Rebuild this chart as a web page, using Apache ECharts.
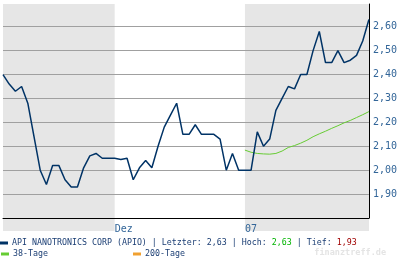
<!DOCTYPE html>
<html><head><meta charset="utf-8">
<script src="https://cdn.jsdelivr.net/npm/echarts@6/dist/echarts.min.js"></script>
<style>html,body{margin:0;padding:0;background:#fff}#c{width:400px;height:258px}</style>
</head><body><div id="c"></div>
<script>
// ---- data ----
const categories = Array.from({length: 60}, (_, i) => 'T' + i); // trading days, Nov 2006 - Jan 2007
const monthTickIdx = [18, 39];
const monthTickLabels = ['Dez', '07'];
const shadedBands = [[0, 18], [39, 59]];
const seriesName = 'API NANOTRONICS CORP (APIO)';
const prices = [
  2.40, 2.36, 2.33, 2.35, 2.28, 2.14, 2.00, 1.94, 2.02, 2.02,
  1.96, 1.93, 1.93, 2.01, 2.06, 2.07, 2.05, 2.05, 2.05, 2.045,
  2.05, 1.96, 2.01, 2.04, 2.01, 2.10, 2.18, 2.23, 2.28, 2.15,
  2.15, 2.19, 2.15, 2.15, 2.15, 2.13, 2.00, 2.07, 2.00, 2.00,
  2.00, 2.16, 2.10, 2.13, 2.25, 2.30, 2.35, 2.34, 2.40, 2.40,
  2.50, 2.58, 2.45, 2.45, 2.50, 2.45, 2.46, 2.48, 2.54, 2.63
];
const ma38 = [
  null, null, null, null, null, null, null, null, null, null,
  null, null, null, null, null, null, null, null, null, null,
  null, null, null, null, null, null, null, null, null, null,
  null, null, null, null, null, null, null, null, null, 2.084,
  2.075, 2.070, 2.068, 2.067, 2.070, 2.080, 2.095, 2.103, 2.113, 2.125,
  2.140, 2.152, 2.163, 2.175, 2.186, 2.198, 2.208, 2.220, 2.232, 2.245
];
const ma200 = categories.map(() => null);
const yTicks = [1.9, 2.0, 2.1, 2.2, 2.3, 2.4, 2.5, 2.6];

const fmt = v => v.toFixed(2).replace('.', ',');
const last = prices[prices.length - 1];
const hoch = Math.max(...prices);
const tief = Math.min(...prices);

const mono = 'DejaVu Sans Mono';
const gridColors = ['#000000'].concat(yTicks.map(() => '#a0a0a0'), ['#a0a0a0']);
const chart = echarts.init(document.getElementById('c'), null, {renderer: 'canvas'});
chart.setOption({
  animation: false,
  grid: [
    {left: 3, right: 31, top: 4, bottom: 40},
    {left: 3, right: 31, top: 4, bottom: 27}
  ],
  xAxis: [
    {
      type: 'category', gridIndex: 0, data: categories, boundaryGap: false, z: 6,
      axisLine: {show: true, onZero: false, lineStyle: {color: '#000', width: 1}},
      axisTick: {show: false},
      axisLabel: {
        interval: 0, margin: 6, color: '#336699', fontFamily: mono, fontSize: 10, align: 'left',
        formatter: (v, i) => { const k = monthTickIdx.indexOf(i); return k >= 0 ? monthTickLabels[k] : ''; }
      },
      splitLine: {show: false}
    },
    {
      type: 'category', gridIndex: 1, data: categories, boundaryGap: false, show: false
    }
  ],
  yAxis: [
    {
      type: 'value', gridIndex: 0, position: 'right', min: 1.8, max: 2.695, interval: 0.1, z: 1,
      axisLine: {show: true, lineStyle: {color: '#000', width: 1}},
      axisTick: {show: false},
      axisLabel: {
        margin: 4, color: '#336699', fontFamily: mono, fontSize: 10,
        formatter: v => yTicks.some(t => Math.abs(t - v) < 1e-6) ? fmt(v) : ''
      },
      splitLine: {show: true, showMinLine: true, showMaxLine: false, lineStyle: {color: gridColors, width: 1}}
    },
    {type: 'value', gridIndex: 1, show: false, min: 0, max: 1}
  ],
  legend: [
    {
      data: [seriesName], left: 0, top: 239, itemWidth: 8, itemHeight: 3, icon: 'rect', itemGap: 5,
      selectedMode: false, padding: 0,
      formatter: () => '{n|' + seriesName + ' | Letzter: ' + fmt(last) + ' | Hoch: }{g|' + fmt(hoch) + '}{n| | Tief: }{r|' + fmt(tief) + '}',
      textStyle: {
        fontFamily: mono, fontSize: 8.3, color: '#1a3d73', padding: [0, 0, 0, -1],
        rich: {
          n: {fontFamily: mono, fontSize: 8.3, color: '#1a3d73'},
          g: {fontFamily: mono, fontSize: 8.3, color: '#00b400'},
          r: {fontFamily: mono, fontSize: 8.3, color: '#a00000'}
        }
      }
    },
    {
      data: ['38-Tage'], left: 1, top: 250, itemWidth: 8, itemHeight: 3, icon: 'rect',
      selectedMode: false, padding: 0,
      textStyle: {fontFamily: mono, fontSize: 8.3, color: '#1a3d73', padding: [0, 0, 0, -1]}
    },
    {
      data: ['200-Tage'], left: 133, top: 250, itemWidth: 8, itemHeight: 3, icon: 'rect',
      selectedMode: false, padding: 0,
      textStyle: {fontFamily: mono, fontSize: 8.3, color: '#1a3d73', padding: [0, 0, 0, -1]}
    }
  ],
  graphic: [
    {type: 'text', right: 14, top: 248, z: 0,
     style: {text: 'finanztreff.de', fill: '#e4e4e4', font: 'bold 8.5px "DejaVu Sans Mono"'}}
  ],
  series: [
    {
      type: 'line', xAxisIndex: 1, yAxisIndex: 1, data: [], z: -5, zlevel: 0, silent: true,
      markArea: {
        silent: true, z: -5, itemStyle: {color: '#e6e6e6'},
        data: shadedBands.map(b => [{xAxis: categories[b[0]]}, {xAxis: categories[b[1]]}])
      }
    },
    {
      name: seriesName, type: 'line', data: prices, showSymbol: false, symbol: 'none',
      lineStyle: {color: '#003366', width: 1.5}, itemStyle: {color: '#003366'}, z: 4
    },
    {
      name: '38-Tage', type: 'line', data: ma38, showSymbol: false, symbol: 'none',
      lineStyle: {color: '#66cc33', width: 1}, itemStyle: {color: '#66cc33'}, z: 3
    },
    {
      name: '200-Tage', type: 'line', data: ma200, showSymbol: false, symbol: 'none',
      lineStyle: {color: '#f0a030', width: 1}, itemStyle: {color: '#f0a030'}, z: 3
    }
  ]
});
</script>
</body></html>
